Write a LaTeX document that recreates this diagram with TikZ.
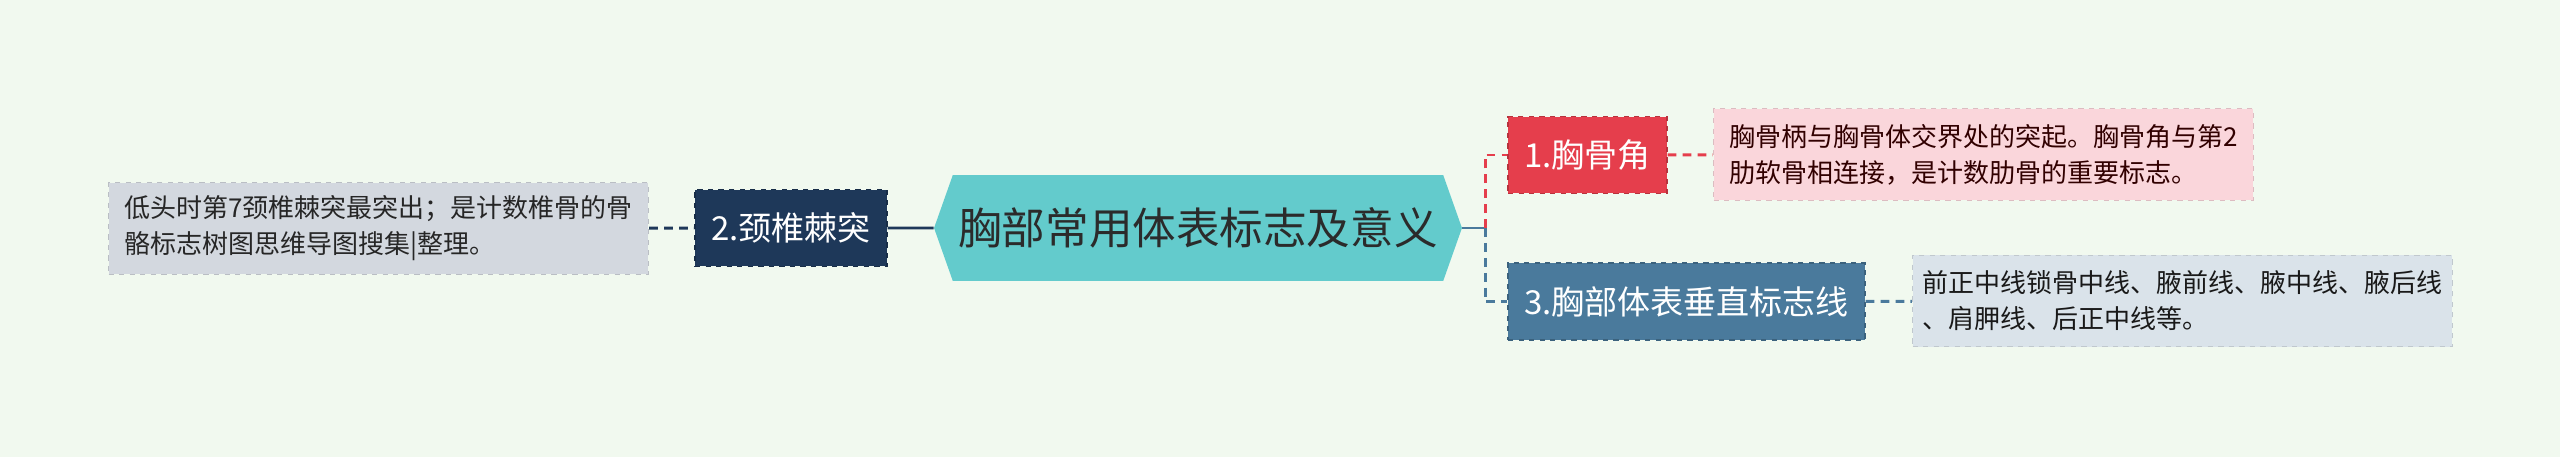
\documentclass[tikz,border=0pt]{standalone}
\usepackage{fontspec}
\setmainfont{Noto Sans CJK SC}
\usetikzlibrary{shapes.symbols, positioning, calc}

\definecolor{bgmint}{HTML}{F1F9EF}
\definecolor{topicfill}{HTML}{63CBCC}
\definecolor{topictext}{HTML}{2B2B2B}
\definecolor{navy}{HTML}{1E3859}
\definecolor{crimson}{HTML}{E53E4C}
\definecolor{steel}{HTML}{4A7A9C}
\definecolor{greyleaf}{HTML}{D3D8DF}
\definecolor{pinkleaf}{HTML}{FAD6DB}
\definecolor{blueleaf}{HTML}{DAE3EA}

\begin{document}
\begin{tikzpicture}[
        x=0.02cm, y=-0.02cm,
        topic/.style={signal, signal to=west and east, signal pointer angle=141,
            fill=topicfill, text=topictext, minimum width=10.56cm, minimum height=2.12cm,
            inner sep=0pt, font=\fontsize{24.8}{30}\selectfont},
        branch/.style={draw=#1!80!black, fill=#1, dashed, line width=0.8pt, text=white,
            minimum height=1.54cm, inner sep=0pt, font=\fontsize{18.8}{22}\selectfont},
        leaf/.style={draw=#1!88!black, fill=#1, dashed, line width=0.8pt, align=left,
            minimum width=10.8cm, minimum height=1.83cm, inner sep=0pt,
            font=\fontsize{14.8}{20.5}\selectfont},
        link/.style={line width=1.7pt, dash pattern=on 5pt off 3.5pt}
    ]
    \fill[bgmint] (0,0) rectangle (2560,457);
    \useasboundingbox (0,0) rectangle (2560,457);

    \node[topic] (root) at (1198,228) {胸部常用体表标志及意义};

    \node[branch=navy, minimum width=3.84cm] (neck) at (791,228) {2.颈椎棘突};
    \node[branch=crimson, minimum width=3.18cm] (angle) at (1587.5,155) {1.胸骨角};
    \node[branch=steel, minimum width=7.14cm] (lines) at (1686.5,301.5) {3.胸部体表垂直标志线};

    \node[leaf=greyleaf, text=black!85] (neckinfo) at (378.5,228.5)
        {低头时第7颈椎棘突最突出；是计数椎骨的骨\\骼标志树图思维导图搜集|整理。};
    \node[leaf=pinkleaf, text=black!65!red!55!black] (angleinfo) at (1983.5,154.5)
        {胸骨柄与胸骨体交界处的突起。胸骨角与第2\\肋软骨相连接，是计数肋骨的重要标志。};
    \node[leaf=blueleaf, text=black!90] (linesinfo) at (2182.5,301)
        {前正中线锁骨中线、腋前线、腋中线、腋后线\\、肩胛线、后正中线等。};

    \coordinate (hub) at (1485,228);

    % left side
    \draw[navy, line width=1.7pt] (neck) -- (root);
    \draw[navy, link] (neckinfo) -- (neck);

    % right side
    \draw[steel, line width=1.7pt] (root.east) -- (hub);
    \draw[crimson, link] (hub) |- (angle.west);
    \draw[steel, link] (hub) |- (lines.west);
    \draw[crimson, link] (angle) -- (angleinfo);
    \draw[steel, link] (lines) -- (linesinfo);
\end{tikzpicture}
\end{document}
